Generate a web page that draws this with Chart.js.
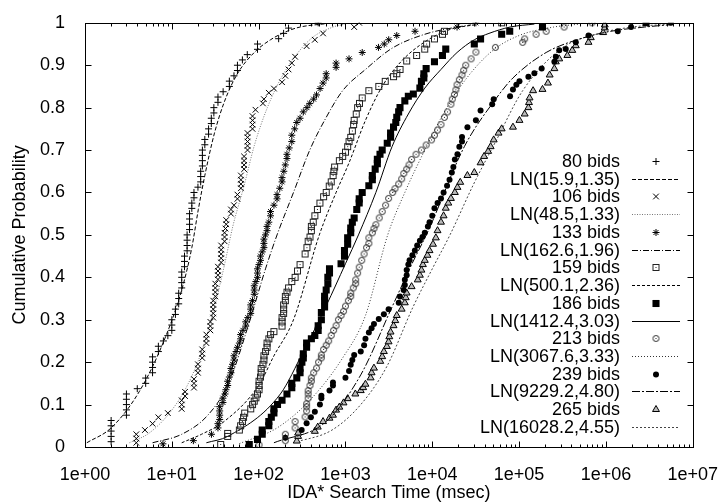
<!DOCTYPE html>
<html>
<head>
<meta charset="utf-8">
<script src="https://cdn.jsdelivr.net/npm/chart.js@4.4.1/dist/chart.umd.min.js"></script>
<style>
  html, body { margin: 0; padding: 0; background: #fff; }
  #wrap { width: 727px; height: 504px; }
</style>
</head>
<body>
<div id="wrap"><canvas id="cdf" width="727" height="504"></canvas></div>
<script>
// Ejes
const xDecades = [1, 10, 100, 1000, 10000, 100000, 1000000, 10000000];
const xTickLabels = ['1e+00', '1e+01', '1e+02', '1e+03', '1e+04', '1e+05', '1e+06', '1e+07'];
const xMinorSteps = [2, 3, 4, 5, 6, 7, 8, 9];
const yTicks = [0, 0.1, 0.2, 0.3, 0.4, 0.5, 0.6, 0.7, 0.8, 0.9, 1];
const yTickLabels = ['0', '0.1', '0.2', '0.3', '0.4', '0.5', '0.6', '0.7', '0.8', '0.9', '1'];

const seriesLabels = ['80 bids', '106 bids', '133 bids', '159 bids', '186 bids', '213 bids', '239 bids', '265 bids'];
const fitLabels = ['LN(15.9,1.35)', 'LN(48.5,1.33)', 'LN(162.6,1.96)', 'LN(500.1,2.36)',
                   'LN(1412.4,3.03)', 'LN(3067.6,3.33)', 'LN(9229.2,4.80)', 'LN(16028.2,4.55)'];

// Datos empiricos [tiempo msec, probabilidad acumulada]
const bids80 = [[2,0.0125],[2,0.025],[2,0.0375],[2,0.05],[2,0.0625],[3,0.075],[3,0.0875],[3,0.1],[3,0.1125],[3,0.125],
  [4,0.1375],[5,0.15],[5,0.1625],[6,0.175],[6,0.1875],[6,0.2],[6,0.2125],[7,0.225],[7,0.2375],[8,0.25],[9,0.2625],
  [10,0.275],[10,0.2875],[10,0.3],[11,0.3125],[11,0.325],[12,0.3375],[12,0.35],[12,0.3625],[13,0.375],[13,0.3875],
  [13,0.4],[13,0.4125],[14,0.425],[14,0.4375],[14,0.45],[15,0.4625],[15,0.475],[15,0.4875],[15,0.5],[16,0.5125],
  [16,0.525],[16,0.5375],[16,0.55],[17,0.5625],[17,0.575],[18,0.5875],[18,0.6],[20,0.6125],[21.5,0.625],[21.5,0.6375],
  [21.5,0.65],[22.5,0.6625],[22.5,0.675],[22.5,0.6875],[22.5,0.7],[24,0.7125],[24,0.725],[26.5,0.7375],[26.5,0.75],
  [28.5,0.7625],[28.5,0.775],[30.5,0.7875],[30.5,0.8],[34,0.8125],[34,0.825],[39,0.8375],[46,0.85],[46,0.8625],
  [52,0.875],[57,0.8875],[57,0.9],[65,0.9125],[74,0.925],[97,0.9375],[97,0.95],[170,0.9625],[194,0.975],[221,0.9875],[485,1.0]];
const bids106 = [[3.9,0.01],[3.9,0.02],[3.9,0.03],[4.9,0.04],[6,0.055],[7,0.07],[9,0.08],[13,0.09],[13,0.1],[13,0.11],
  [14.2,0.12],[14.2,0.13],[18,0.14],[18,0.15],[18,0.16],[20,0.175],[20,0.185],[20,0.195],[22.4,0.21],[22.4,0.22],
  [22.4,0.23],[25,0.245],[25,0.255],[25,0.265],[27.8,0.275],[27.8,0.285],[27.8,0.295],[30,0.305],[30,0.315],[30,0.325],
  [30,0.335],[30,0.345],[31.7,0.355],[31.7,0.365],[31.7,0.375],[31.7,0.385],[34,0.395],[34,0.405],[34,0.415],[34,0.425],
  [37,0.435],[37,0.445],[37,0.455],[37,0.465],[37,0.475],[40.5,0.485],[40.5,0.495],[40.5,0.505],[41.5,0.515],
  [42.3,0.525],[42.3,0.535],[48,0.55],[48,0.56],[52,0.57],[57,0.585],[57,0.595],[62.5,0.61],[62.5,0.62],[62.5,0.63],
  [62.5,0.64],[68,0.655],[68,0.665],[68,0.675],[68,0.685],[74.5,0.7],[74.5,0.71],[74.5,0.72],[74.5,0.73],[74.5,0.74],
  [85,0.75],[85,0.76],[85,0.77],[85,0.78],[92,0.795],[112,0.81],[115,0.82],[131,0.835],[150,0.845],[186,0.86],
  [203,0.875],[221,0.89],[241,0.905],[263,0.92],[357,0.945],[444,0.96],[552,0.975],[1260,0.99],[1440,1.0]];
const bids133 = [[7.9,0.0075],[17.7,0.015],[28.6,0.03],[34,0.045],[34,0.055],[35.6,0.065],[35.6,0.075],[35.6,0.085],
  [35.6,0.095],[38.8,0.105],[38.8,0.115],[41,0.125],[42,0.135],[44,0.145],[44,0.155],[46,0.165],[48,0.175],[48,0.185],
  [50,0.195],[52,0.205],[52,0.215],[55,0.225],[57,0.235],[60,0.245],[62,0.255],[62,0.265],[66,0.275],[71,0.285],
  [71,0.295],[75,0.305],[81,0.315],[81,0.325],[81,0.335],[85,0.345],[89,0.36],[89,0.37],[89,0.38],[93,0.39],[97,0.4],
  [97,0.41],[97,0.42],[101,0.43],[105,0.44],[105,0.45],[110,0.46],[115,0.47],[115,0.48],[115,0.49],[120,0.5],[125,0.51],
  [125,0.52],[131,0.53],[137,0.545],[137,0.555],[150,0.57],[163,0.585],[163,0.595],[175,0.61],[186,0.625],[186,0.635],
  [195,0.65],[203,0.665],[212,0.68],[212,0.69],[225,0.705],[241,0.72],[241,0.735],[260,0.75],[275,0.765],[300,0.775],
  [327,0.79],[360,0.8],[388,0.81],[430,0.82],[464,0.83],[510,0.845],[552,0.858],[600,0.87],[600,0.88],[780,0.895],
  [780,0.905],[1100,0.915],[1560,0.93],[2400,0.942],[2800,0.95],[3150,0.96],[3900,0.97],[6330,0.98],[19300,0.99],[31800,1.0]];
const bids159 = [[36.5,0.006],[44,0.025],[44,0.032],[60,0.04],[62,0.05],[65,0.06],[67,0.07],[69,0.08],[81,0.09],
  [85,0.1],[89,0.108],[93,0.116],[97,0.125],[101,0.135],[101,0.145],[101,0.155],[105,0.165],[107,0.175],[107,0.185],
  [112,0.195],[115,0.205],[115,0.215],[120,0.225],[125,0.235],[125,0.245],[131,0.255],[137,0.265],[150,0.272],
  [186,0.285],[186,0.295],[186,0.305],[194,0.315],[194,0.325],[194,0.335],[203,0.345],[203,0.355],[212,0.365],
  [221,0.375],[241,0.39],[263,0.4],[280,0.415],[300,0.43],[343,0.455],[360,0.47],[372,0.485],[390,0.495],[405,0.51],
  [405,0.52],[425,0.53],[444,0.545],[475,0.56],[508,0.575],[560,0.59],[600,0.6],[650,0.615],[685,0.625],[720,0.64],
  [735,0.65],[750,0.66],[850,0.675],[928,0.685],[1000,0.695],[1060,0.708],[1100,0.72],[1150,0.73],[1200,0.745],
  [1240,0.76],[1260,0.77],[1330,0.785],[1380,0.8],[1450,0.81],[1560,0.823],[1860,0.84],[2420,0.85],[2870,0.862],
  [3580,0.873],[3900,0.88],[4250,0.89],[5070,0.91],[6600,0.923],[8180,0.938],[8600,0.95],[10600,0.962],[13100,0.973],
  [13800,0.98],[63000,1.0]];
const bids186 = [[78,0.006],[97,0.018],[110,0.03],[110,0.04],[131,0.05],[131,0.06],[140,0.07],[150,0.08],[150,0.09],
  [165,0.1],[186,0.11],[212,0.125],[241,0.14],[241,0.15],[275,0.163],[300,0.175],[300,0.186],[315,0.2],[327,0.21],
  [327,0.22],[357,0.235],[357,0.245],[405,0.255],[444,0.263],[485,0.275],[485,0.286],[528,0.3],[528,0.317],[575,0.33],
  [575,0.345],[575,0.355],[600,0.37],[627,0.385],[627,0.4],[655,0.41],[655,0.42],[890,0.432],[975,0.45],[975,0.463],
  [1060,0.478],[1060,0.493],[1150,0.505],[1150,0.516],[1200,0.53],[1260,0.54],[1350,0.56],[1440,0.575],[1440,0.585],
  [1560,0.6],[1860,0.616],[2040,0.63],[2040,0.64],[2200,0.655],[2330,0.668],[2330,0.678],[2500,0.69],[2650,0.7],
  [3030,0.716],[3310,0.73],[3310,0.74],[3580,0.754],[3800,0.765],[3900,0.777],[4100,0.79],[4250,0.8],[4830,0.816],
  [5300,0.827],[6050,0.832],[7200,0.846],[7500,0.862],[8000,0.87],[8000,0.88],[8500,0.892],[10600,0.908],[13100,0.923],
  [14300,0.938],[30500,0.95],[36000,0.962],[63000,0.973],[78000,0.98],[186000,0.99],[2900000,1.0]];
const bids213 = [[101,0.005],[203,0.015],[203,0.03],[263,0.045],[263,0.06],[343,0.071],[357,0.085],[357,0.095],
  [357,0.102],[372,0.115],[372,0.125],[372,0.133],[390,0.145],[405,0.155],[405,0.163],[430,0.175],[464,0.186],
  [490,0.2],[528,0.21],[528,0.217],[560,0.23],[600,0.24],[640,0.25],[685,0.263],[730,0.275],[780,0.286],[830,0.3],
  [890,0.31],[950,0.32],[1000,0.332],[1080,0.345],[1150,0.355],[1150,0.363],[1230,0.375],[1310,0.385],[1310,0.394],
  [1380,0.41],[1440,0.424],[1540,0.44],[1640,0.455],[1750,0.47],[1860,0.48],[1860,0.493],[2040,0.505],[2130,0.515],
  [2240,0.524],[2450,0.54],[2650,0.555],[2900,0.57],[3140,0.586],[3500,0.6],[3720,0.609],[4100,0.62],[4440,0.632],
  [4700,0.645],[5070,0.655],[5400,0.665],[5780,0.678],[6500,0.69],[7500,0.7],[8500,0.712],[9800,0.724],[10600,0.735],
  [11500,0.747],[12600,0.76],[13800,0.777],[15000,0.79],[16400,0.808],[17000,0.82],[18000,0.831],[18700,0.842],
  [19300,0.854],[20500,0.866],[22000,0.877],[23000,0.888],[24300,0.9],[28000,0.915],[31800,0.931],[53400,0.942],
  [110000,0.954],[116000,0.962],[157000,0.973],[205000,0.98],[330000,0.99],[690000,1.0]];
const bids239 = [[203,0.022],[313,0.04],[357,0.056],[400,0.07],[444,0.083],[508,0.1],[528,0.115],[528,0.121],
  [655,0.133],[718,0.145],[718,0.152],[1000,0.163],[1100,0.179],[1150,0.194],[1200,0.205],[1260,0.217],[1500,0.225],
  [1640,0.24],[1700,0.255],[1860,0.27],[2000,0.28],[2130,0.29],[2420,0.302],[2770,0.313],[3140,0.325],[4110,0.34],
  [4250,0.355],[4680,0.37],[4830,0.382],[4830,0.394],[5070,0.405],[5070,0.417],[5300,0.43],[5480,0.44],[5900,0.452],
  [6300,0.463],[6700,0.475],[7200,0.486],[7700,0.495],[8200,0.505],[8900,0.52],[9300,0.53],[10000,0.545],[10600,0.563],
  [11500,0.575],[12600,0.586],[13500,0.6],[14800,0.616],[15800,0.63],[16800,0.647],[17500,0.66],[18200,0.678],
  [19500,0.69],[20500,0.708],[22000,0.72],[22000,0.731],[25400,0.754],[31800,0.77],[36000,0.793],[49000,0.808],
  [51000,0.82],[78700,0.827],[85000,0.843],[93000,0.854],[101000,0.862],[128000,0.873],[150000,0.881],[182000,0.892],
  [255000,0.908],[265000,0.92],[290000,0.935],[345000,0.938],[450000,0.954],[630000,0.97],[1370000,0.98],
  [1950000,0.99],[5600000,1.0]];
const bids265 = [[275,0.014],[285,0.025],[285,0.033],[444,0.037],[480,0.047],[552,0.06],[655,0.068],[718,0.075],
  [780,0.087],[850,0.094],[950,0.104],[1060,0.114],[1300,0.125],[1500,0.133],[1600,0.14],[1700,0.148],[1950,0.163],
  [2000,0.175],[2130,0.186],[2520,0.202],[2650,0.213],[2770,0.225],[3000,0.237],[3140,0.248],[3200,0.26],[3310,0.271],
  [3580,0.286],[3750,0.298],[3900,0.31],[4440,0.325],[4830,0.34],[4950,0.352],[5070,0.363],[5780,0.378],[6800,0.394],
  [7200,0.405],[7500,0.417],[7800,0.43],[8200,0.44],[8800,0.452],[9300,0.463],[10200,0.478],[11000,0.493],[11500,0.51],
  [12600,0.53],[13500,0.545],[14300,0.563],[15300,0.575],[16400,0.586],[18200,0.6],[19500,0.612],[21000,0.624],
  [25400,0.64],[30500,0.647],[36000,0.67],[39500,0.685],[44000,0.697],[47000,0.708],[51000,0.724],[58000,0.74],
  [63000,0.75],[85000,0.754],[101000,0.77],[116000,0.785],[128000,0.8],[130000,0.812],[132000,0.823],[145000,0.84],
  [186000,0.843],[215000,0.858],[225000,0.877],[255000,0.892],[265000,0.908],[290000,0.915],[360000,0.923],
  [410000,0.935],[450000,0.946],[630000,0.954],[670000,0.965],[930000,0.977],[970000,0.988],[970000,0.995]];

// Curvas lognormales ajustadas
const ln15_9 = [[1.05,0.01],[2,0.045],[4.2,0.13],[8.1,0.25],[13,0.37],[17,0.47],[20.2,0.56],[24,0.64],[31,0.74],
  [40.5,0.815],[57,0.88],[89,0.93],[137,0.96],[212,0.98],[300,0.99],[600,0.998]];
const ln48_5 = [[3.25,0.01],[5.5,0.033],[10,0.087],[15.5,0.15],[22,0.225],[31,0.33],[40.5,0.43],[50.4,0.52],
  [68,0.616],[89,0.71],[126,0.8],[194,0.88],[388,0.96],[718,0.99],[1000,0.997]];
const ln162_6 = [[6,0.01],[13,0.03],[26,0.075],[45,0.15],[77,0.29],[120,0.42],[163,0.5],[252,0.6],[388,0.7],
  [600,0.777],[928,0.84],[1700,0.89],[3440,0.94],[8200,0.973],[19300,0.99],[28000,0.995]];
const ln500_1 = [[13,0.01],[22,0.03],[40,0.06],[100,0.145],[150,0.215],[252,0.3],[500,0.5],[780,0.6],[1100,0.67],
  [1700,0.77],[2650,0.85],[4440,0.91],[8200,0.955],[16400,0.985],[30000,0.995]];
const ln1412_4 = [[25,0.01],[44,0.025],[178,0.125],[327,0.225],[600,0.333],[1000,0.432],[1412,0.5],[2240,0.6],
  [3440,0.708],[5300,0.785],[8200,0.846],[12600,0.89],[19300,0.93],[30500,0.96],[45000,0.975],[78700,0.99],[150000,0.997]];
const ln3067_6 = [[60,0.008],[163,0.045],[388,0.11],[928,0.21],[1700,0.31],[3067,0.5],[4830,0.6],[8200,0.7],
  [13800,0.79],[25000,0.87],[50000,0.935],[100000,0.97],[250000,0.99],[500000,0.997]];
const ln9229_2 = [[150,0.01],[600,0.06],[1500,0.17],[3440,0.33],[5780,0.43],[9000,0.51],[23400,0.708],[55000,0.823],
  [85000,0.87],[205000,0.93],[500000,0.962],[1140000,0.98],[2800000,0.99],[6000000,0.996]];
const ln16028_2 = [[250,0.01],[700,0.04],[1500,0.1],[3000,0.19],[6000,0.33],[10000,0.42],[16000,0.5],[30000,0.62],
  [55000,0.724],[110000,0.84],[310000,0.94],[770000,0.973],[2000000,0.99],[6000000,0.997]];

const FONT = '"Liberation Sans", Arial, Helvetica, sans-serif';

// Marcadores propios: cuadrado y circulo huecos con punto central
function makeMarker(kind) {
  const c = document.createElement('canvas');
  c.width = 9; c.height = 9;
  const g = c.getContext('2d');
  g.strokeStyle = '#222';
  g.fillStyle = '#222';
  g.lineWidth = 1;
  if (kind === 'square') {
    g.strokeRect(1.5, 1.5, 6, 6);
  } else {
    g.beginPath();
    g.arc(4.5, 4.5, 3, 0, Math.PI * 2);
    g.stroke();
  }
  g.fillRect(4, 4, 1, 1);
  return c;
}
const squareDot = makeMarker('square');
const circleDot = makeMarker('circle');

function pts(label, data, style) {
  return Object.assign({
    label: label, data: data, showLine: false,
    pointBackgroundColor: '#000', pointBorderColor: '#000', pointBorderWidth: 1,
    pointRadius: 3.5, pointHoverRadius: 3.5, isPoints: true
  }, style);
}
function fit(label, data, dash, color) {
  return {
    label: label, data: data, showLine: true, pointRadius: 0, pointHoverRadius: 0,
    borderColor: color, borderWidth: 1, borderDash: dash, fill: false,
    cubicInterpolationMode: 'monotone', isPoints: false
  };
}

const datasets = [
  pts(seriesLabels[0], bids80, {pointStyle: 'cross', pointRadius: 3.5}),
  fit(fitLabels[0], ln15_9, [4, 2], '#000'),
  pts(seriesLabels[1], bids106, {pointStyle: 'crossRot', pointRadius: 4}),
  fit(fitLabels[1], ln48_5, [1, 1.5], '#777'),
  pts(seriesLabels[2], bids133, {pointStyle: 'star', pointRadius: 3.5}),
  fit(fitLabels[2], ln162_6, [6, 2, 1, 2], '#000'),
  pts(seriesLabels[3], bids159, {pointStyle: squareDot}),
  fit(fitLabels[3], ln500_1, [3, 2], '#000'),
  pts(seriesLabels[4], bids186, {pointStyle: 'rect', pointRadius: 5, pointBorderWidth: 0}),
  fit(fitLabels[4], ln1412_4, [], '#000'),
  pts(seriesLabels[5], bids213, {pointStyle: circleDot}),
  fit(fitLabels[5], ln3067_6, [1, 2], '#333'),
  pts(seriesLabels[6], bids239, {pointStyle: 'circle', pointRadius: 3, pointBorderWidth: 0}),
  fit(fitLabels[6], ln9229_2, [8, 2, 2, 2], '#000'),
  pts(seriesLabels[7], bids265, {pointStyle: 'triangle', pointRadius: 4, pointBackgroundColor: '#bbb'}),
  fit(fitLabels[7], ln16028_2, [2, 2], '#444')
];

// Marco y marcas de los ejes hacia dentro (estilo gnuplot)
const frameTicks = {
  id: 'frameTicks',
  afterDatasetsDraw(chart) {
    const {ctx, chartArea: a, scales: {x, y}} = chart;
    const L = Math.round(a.left) + 0.5, R = Math.round(a.right) + 0.5;
    const T = Math.round(a.top) + 0.5, B = Math.round(a.bottom) + 0.5;
    ctx.save();
    ctx.strokeStyle = '#000';
    ctx.lineWidth = 1;
    ctx.setLineDash([]);
    ctx.beginPath();
    xDecades.forEach((d, i) => {
      const px = Math.round(x.getPixelForValue(d)) + 0.5;
      ctx.moveTo(px, B); ctx.lineTo(px, B - 6);
      ctx.moveTo(px, T); ctx.lineTo(px, T + 6);
      if (i < xDecades.length - 1) {
        xMinorSteps.forEach(m => {
          const mx = Math.round(x.getPixelForValue(d * m)) + 0.5;
          ctx.moveTo(mx, B); ctx.lineTo(mx, B - 3);
          ctx.moveTo(mx, T); ctx.lineTo(mx, T + 3);
        });
      }
    });
    yTicks.forEach(v => {
      const py = Math.round(y.getPixelForValue(v)) + 0.5;
      ctx.moveTo(L, py); ctx.lineTo(L + 6, py);
      ctx.moveTo(R, py); ctx.lineTo(R - 6, py);
    });
    ctx.stroke();
    ctx.strokeRect(L, T, R - L, B - T);
    ctx.restore();
  }
};

// Leyenda dentro del grafico: texto a la derecha y muestra del simbolo/linea
const gnuLegend = {
  id: 'gnuLegend',
  afterDatasetsDraw(chart) {
    const ctx = chart.ctx;
    const textRight = 620, lineX1 = 632, lineX2 = 680, symX = 656;
    const rowY0 = 161, rowStep = 17.73;
    ctx.save();
    ctx.font = '18px ' + FONT;
    ctx.textAlign = 'right';
    ctx.textBaseline = 'middle';
    chart.data.datasets.forEach((ds, i) => {
      const yy = rowY0 + i * rowStep;
      ctx.fillStyle = '#000';
      ctx.fillText(ds.label, textRight, yy + 1);
      if (ds.isPoints) {
        ctx.fillStyle = ds.pointBackgroundColor;
        ctx.strokeStyle = ds.pointBorderColor;
        ctx.lineWidth = ds.pointBorderWidth;
        Chart.helpers.drawPoint(ctx, {
          pointStyle: ds.pointStyle, radius: ds.pointRadius, rotation: 0, borderWidth: ds.pointBorderWidth
        }, symX, Math.round(yy) + 0.5);
      } else {
        ctx.strokeStyle = ds.borderColor;
        ctx.lineWidth = 1;
        ctx.setLineDash(ds.borderDash);
        ctx.beginPath();
        ctx.moveTo(lineX1, Math.round(yy) + 0.5);
        ctx.lineTo(lineX2, Math.round(yy) + 0.5);
        ctx.stroke();
        ctx.setLineDash([]);
      }
    });
    ctx.restore();
  }
};

new Chart(document.getElementById('cdf'), {
  type: 'scatter',
  data: { datasets: datasets },
  options: {
    responsive: false,
    animation: false,
    devicePixelRatio: 1,
    events: [],
    layout: { padding: { left: 0, right: 25, top: 13, bottom: 0 } },
    plugins: { legend: { display: false }, tooltip: { enabled: false } },
    scales: {
      x: {
        type: 'logarithmic',
        min: 1, max: 10000000,
        grid: { display: false },
        border: { display: false },
        afterBuildTicks(scale) {
          scale.ticks = xDecades.map(v => ({ value: v }));
        },
        afterFit(scale) { scale.height = 57; },
        ticks: {
          autoSkip: false, maxRotation: 0, padding: 9, color: '#000',
          font: { family: FONT, size: 18 },
          callback: (v, i) => xTickLabels[i]
        },
        title: {
          display: true, text: 'IDA* Search Time (msec)', color: '#000',
          font: { family: FONT, size: 18, lineHeight: 1 },
          padding: { top: 0, bottom: 2 }
        }
      },
      y: {
        min: 0, max: 1,
        grid: { display: false },
        border: { display: false },
        afterBuildTicks(scale) {
          scale.ticks = yTicks.map(v => ({ value: v }));
        },
        afterFit(scale) { scale.width = 85; },
        ticks: {
          autoSkip: false, padding: 12, color: '#000',
          font: { family: FONT, size: 18 },
          callback: (v, i) => yTickLabels[i]
        },
        title: {
          display: true, text: 'Cumulative Probability', color: '#000',
          font: { family: FONT, size: 18, lineHeight: 1 },
          padding: { top: 11, bottom: 0 }
        }
      }
    }
  },
  plugins: [frameTicks, gnuLegend]
});
</script>
</body>
</html>
